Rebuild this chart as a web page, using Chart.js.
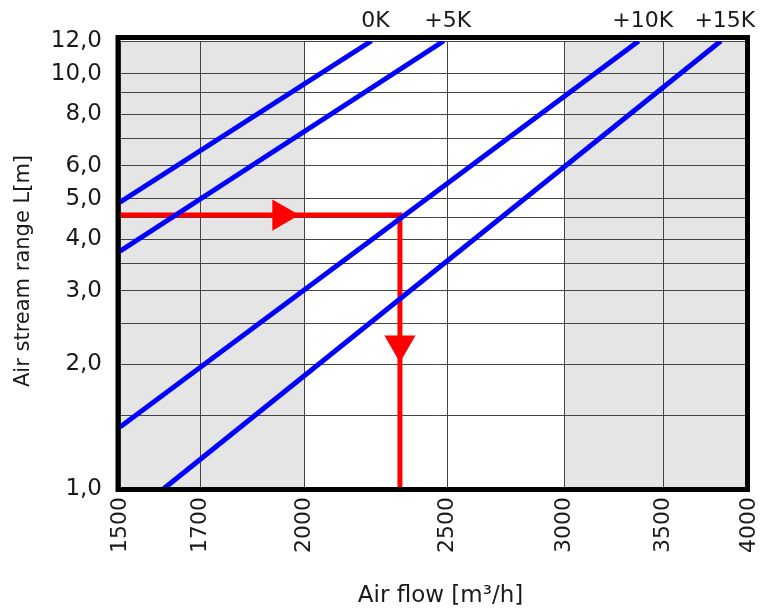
<!DOCTYPE html>
<html>
<head>
<meta charset="utf-8">
<title>Air stream range</title>
<script src="https://cdn.jsdelivr.net/npm/chart.js@4.4.1/dist/chart.umd.min.js"></script>
<style>
  html, body { margin: 0; padding: 0; background: #fff; }
  canvas { display: block; }
</style>
</head>
<body>
<canvas id="chart" width="767" height="613"></canvas>
<script>
// curves per temperature difference: air flow [m3/h] -> air stream range [m]
const curveNames = ["0K", "+5K", "+10K", "+15K"];
const curveFlow = [
    [1500, 2220],
    [1500, 2485],
    [1500, 3368],
    [1605, 3828]
];
const curveRange = [
    [4.91, 12],
    [3.74, 12],
    [1.41, 12],
    [1.0, 12]
];

// worked example (red path + arrow heads)
const exampleFlow = [1500, 2321, 2321];
const exampleRange = [4.57, 4.57, 1.0];
const arrowFlow = [1929, 2321];
const arrowRange = [4.57, 2.23];

// grey flow bands
const bandFrom = [1500, 3000];
const bandTo = [2000, 4000];

const xTicks = [1500, 1700, 2000, 2500, 3000, 3500, 4000];
const yGrid = [1, 1.5, 2, 2.5, 3, 3.5, 4, 4.5, 5, 6, 7, 8, 9, 10, 12];
const yLabels = [1, 2, 3, 4, 5, 6, 8, 10, 12];

const FONT = '"DejaVu Sans", sans-serif';

function toPoints(xs, ys) {
    return xs.map((x, i) => ({ x: x, y: ys[i] }));
}

const datasets = curveNames.map((name, i) => ({
    label: name,
    data: toPoints(curveFlow[i], curveRange[i]),
    showLine: true,
    borderColor: "#0000ff",
    borderWidth: 5,
    pointRadius: 0
}));

datasets.push({
    label: "example",
    data: toPoints(exampleFlow, exampleRange),
    showLine: true,
    borderColor: "#ff0000",
    borderWidth: 5,
    borderJoinStyle: "miter",
    pointRadius: 0
});

datasets.push({
    label: "arrows",
    data: toPoints(arrowFlow, arrowRange),
    showLine: false,
    pointStyle: "triangle",
    pointRadius: 18,
    pointRotation: [90, 180],
    backgroundColor: "#ff0000",
    borderWidth: 0
});

// grey bands behind the grid
const bandsPlugin = {
    id: "bands",
    beforeDraw(chart) {
        const { ctx, chartArea: a, scales: { x } } = chart;
        ctx.save();
        ctx.fillStyle = "#e5e5e5";
        bandFrom.forEach((from, i) => {
            const x0 = x.getPixelForValue(from);
            const x1 = x.getPixelForValue(bandTo[i]);
            ctx.fillRect(x0, a.top, x1 - x0, a.bottom - a.top);
        });
        ctx.restore();
    }
};

// thick frame, curve names and axis titles
const framePlugin = {
    id: "frame",
    afterDatasetsDraw(chart) {
        const { ctx, chartArea: a } = chart;
        ctx.save();
        ctx.strokeStyle = "#000";
        ctx.lineWidth = 5;
        ctx.strokeRect(a.left - 2, a.top - 3.5, a.right - a.left + 0.5, a.bottom - a.top + 4);
        ctx.restore();
    },
    afterDraw(chart) {
        const { ctx, chartArea: a, scales: { x } } = chart;
        ctx.save();
        ctx.fillStyle = "#1a1a1a";
        ctx.font = "22px " + FONT;
        ctx.textAlign = "center";
        ctx.textBaseline = "alphabetic";
        curveNames.forEach((name, i) => {
            const last = curveFlow[i][curveFlow[i].length - 1];
            ctx.fillText(name, x.getPixelForValue(last) + 4, a.top - 14);
        });

        ctx.font = "23px " + FONT;
        ctx.fillText("Air flow [m³/h]", (a.left + a.right) / 2 + 6, chart.height - 11);

        ctx.font = "21px " + FONT;
        ctx.translate(24, (a.top + a.bottom) / 2 + 6);
        ctx.rotate(-Math.PI / 2);
        ctx.textBaseline = "middle";
        ctx.fillText("Air stream range L[m]", 0, 0);
        ctx.restore();
    }
};

new Chart(document.getElementById("chart"), {
    type: "scatter",
    data: { datasets: datasets },
    plugins: [bandsPlugin, framePlugin],
    options: {
        responsive: false,
        animation: false,
        events: [],
        layout: { padding: { top: 41, right: 12, bottom: 0, left: 0 } },
        plugins: {
            legend: { display: false },
            tooltip: { enabled: false }
        },
        scales: {
            x: {
                type: "logarithmic",
                min: 1500,
                max: 4000,
                afterBuildTicks: s => { s.ticks = xTicks.map(v => ({ value: v })); },
                afterFit: s => { s.height = 124; s.paddingLeft = 0; s.paddingRight = 0; },
                grid: { color: "#444", lineWidth: 1, drawTicks: false },
                border: { display: false },
                ticks: {
                    autoSkip: false,
                    minRotation: 90,
                    maxRotation: 90,
                    padding: 8,
                    color: "#1a1a1a",
                    font: { family: FONT, size: 22 },
                    callback: v => String(v)
                }
            },
            y: {
                type: "logarithmic",
                min: 1,
                max: 12,
                afterBuildTicks: s => { s.ticks = yGrid.map(v => ({ value: v })); },
                afterFit: s => { s.width = 120; s.paddingTop = 0; s.paddingBottom = 0; },
                grid: { color: "#444", lineWidth: 1, drawTicks: false },
                border: { display: false },
                ticks: {
                    autoSkip: false,
                    padding: 18,
                    color: "#1a1a1a",
                    font: { family: FONT, size: 23 },
                    callback: v => yLabels.includes(v) ? v.toFixed(1).replace(".", ",") : ""
                }
            }
        }
    }
});
</script>
</body>
</html>
